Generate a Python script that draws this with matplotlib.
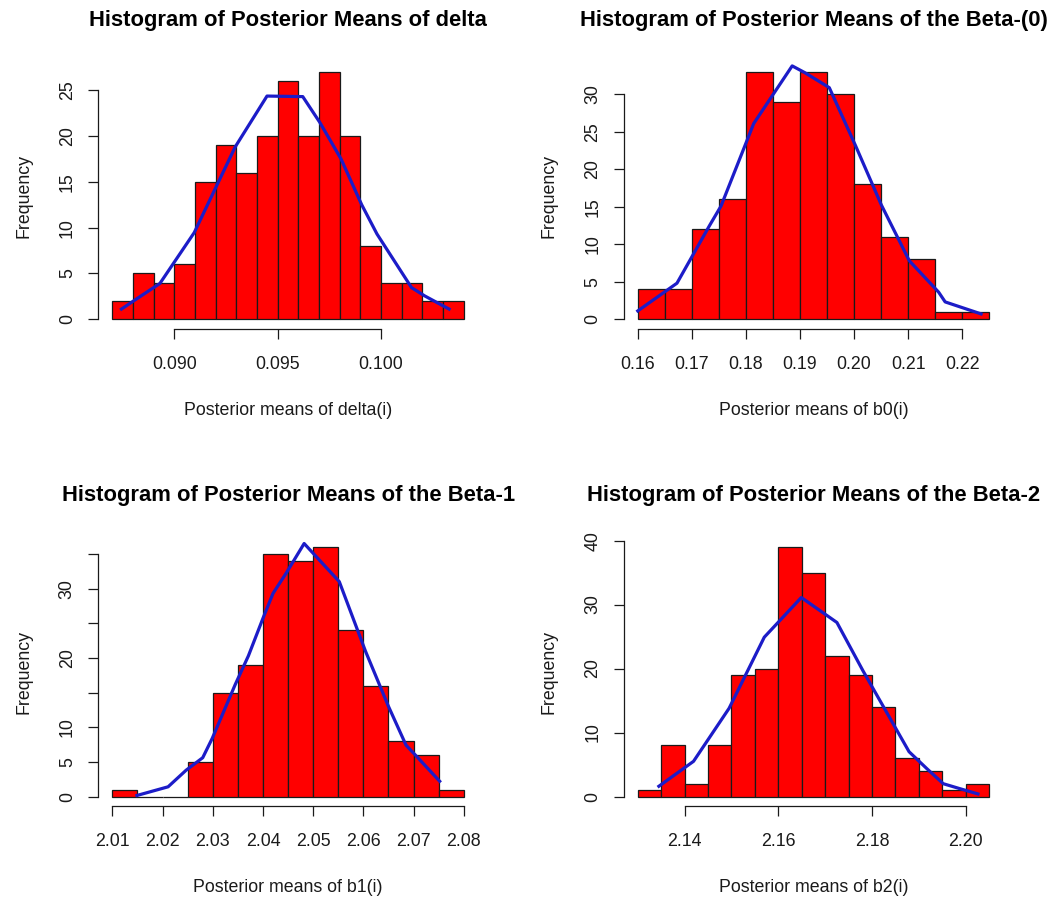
import numpy as np
import matplotlib
matplotlib.use('Agg')
import matplotlib.pyplot as plt

plt.rcParams['font.family'] = ['Liberation Sans', 'DejaVu Sans']

#==============================================================================
# Histogram counts of the posterior means (200 draws each)
#==============================================================================
delta_breaks = [0.087, 0.088, 0.089, 0.090, 0.091, 0.092, 0.093, 0.094, 0.095,
                0.096, 0.097, 0.098, 0.099, 0.100, 0.101, 0.102, 0.103, 0.104]
delta_counts = [2, 5, 4, 6, 15, 19, 16, 20, 26, 20, 27, 20, 8, 4, 4, 2, 2]
delta_curve_x = [0.08744, 0.08803, 0.08930, 0.09096, 0.09294, 0.09448, 0.09621,
                 0.09703, 0.09806, 0.09906, 0.09980, 0.10147, 0.10210, 0.10329]
delta_curve_y = [1.1, 2.0, 3.9, 9.45, 18.8, 24.36, 24.3,
                 21.5, 17.5, 12.5, 9.3, 3.45, 2.55, 1.1]

b0_breaks = [0.160, 0.165, 0.170, 0.175, 0.180, 0.185, 0.190,
             0.195, 0.200, 0.205, 0.210, 0.215, 0.220, 0.225]
b0_counts = [4, 4, 12, 16, 33, 29, 33, 30, 18, 11, 8, 1, 1]
b0_curve_x = [0.1600, 0.16725, 0.17328, 0.1754, 0.18144, 0.18856, 0.19089,
              0.19542, 0.20025, 0.20508, 0.21022, 0.21565, 0.21686, 0.22350]
b0_curve_y = [1.1, 4.8, 12.5, 15.1, 26.1, 33.8, 32.9,
              30.9, 23.2, 15.2, 7.8, 3.6, 2.3, 0.7]

b1_breaks = [2.010, 2.015, 2.020, 2.025, 2.030, 2.035, 2.040, 2.045,
             2.050, 2.055, 2.060, 2.065, 2.070, 2.075, 2.080]
b1_counts = [1, 0, 0, 5, 15, 19, 35, 34, 36, 24, 16, 8, 6, 1]
b1_curve_x = [2.0149, 2.0211, 2.0247, 2.0280, 2.0299, 2.0345, 2.0371, 2.0401, 2.0420,
              2.0446, 2.0482, 2.0552, 2.0604, 2.0650, 2.0685, 2.0702, 2.0752]
b1_curve_y = [0.15, 1.4, 3.8, 5.6, 8.4, 16.2, 20.3, 25.9, 29.3,
              32.2, 36.5, 31.0, 21.0, 13.0, 7.4, 6.1, 2.2]

b2_breaks = [2.130, 2.135, 2.140, 2.145, 2.150, 2.155, 2.160, 2.165,
             2.170, 2.175, 2.180, 2.185, 2.190, 2.195, 2.200, 2.205]
b2_counts = [1, 8, 2, 8, 19, 20, 39, 35, 22, 19, 14, 6, 4, 1, 2]
b2_curve_x = [2.1345, 2.1419, 2.1495, 2.1570, 2.1649, 2.1725, 2.1781,
              2.1851, 2.1879, 2.1917, 2.1952, 2.1984, 2.2026]
b2_curve_y = [1.6, 5.5, 13.8, 24.9, 31.1, 27.2, 19.6,
              10.6, 7.0, 4.35, 2.0, 1.3, 0.4]

panels = [
    dict(title='Histogram of Posterior Means of delta', xlabel='Posterior means of delta(i)',
         breaks=delta_breaks, counts=delta_counts, cx=delta_curve_x, cy=delta_curve_y,
         xticks=[0.090, 0.095, 0.100], xlabels=['0.090', '0.095', '0.100'],
         yticks=[0, 5, 10, 15, 20, 25], ylabels=['0', '5', '10', '15', '20', '25']),
    dict(title='Histogram of Posterior Means of the Beta-(0)', xlabel='Posterior means of b0(i)',
         breaks=b0_breaks, counts=b0_counts, cx=b0_curve_x, cy=b0_curve_y,
         xticks=[0.16, 0.17, 0.18, 0.19, 0.20, 0.21, 0.22],
         xlabels=['0.16', '0.17', '0.18', '0.19', '0.20', '0.21', '0.22'],
         yticks=[0, 5, 10, 15, 20, 25, 30], ylabels=['0', '5', '10', '15', '20', '25', '30']),
    dict(title='Histogram of Posterior Means of the Beta-1', xlabel='Posterior means of b1(i)',
         breaks=b1_breaks, counts=b1_counts, cx=b1_curve_x, cy=b1_curve_y,
         xticks=[2.01, 2.02, 2.03, 2.04, 2.05, 2.06, 2.07, 2.08],
         xlabels=['2.01', '2.02', '2.03', '2.04', '2.05', '2.06', '2.07', '2.08'],
         yticks=[0, 5, 10, 15, 20, 25, 30, 35], ylabels=['0', '5', '10', '', '20', '', '30', '']),
    dict(title='Histogram of Posterior Means of the Beta-2', xlabel='Posterior means of b2(i)',
         breaks=b2_breaks, counts=b2_counts, cx=b2_curve_x, cy=b2_curve_y,
         xticks=[2.14, 2.16, 2.18, 2.20], xlabels=['2.14', '2.16', '2.18', '2.20'],
         yticks=[0, 10, 20, 30, 40], ylabels=['0', '10', '20', '30', '40']),
]

# plot regions (figure fraction), 2x2 like par(mfrow=c(2,2))
boxes = [[0.0924, 0.6348, 0.3567, 0.2964],
         [0.5862, 0.6348, 0.3567, 0.2964],
         [0.0924, 0.1049, 0.3567, 0.2991],
         [0.5862, 0.1049, 0.3567, 0.2991]]

fig = plt.figure(figsize=(10.64, 9.01), dpi=100)

for p, box in zip(panels, boxes):
    ax = fig.add_axes(box)
    br = np.array(p['breaks'])
    ax.bar(br[:-1], p['counts'], width=np.diff(br), align='edge',
           color='#ff0000', edgecolor='#1a1a1a', linewidth=0.9, zorder=2)
    ax.plot(p['cx'], p['cy'], color='#1c1cc8', linewidth=2.3, zorder=3)

    # R style axes: 4% padding, axis lines only between first and last tick
    xr = br[-1] - br[0]
    ymax = max(p['counts'])
    ax.set_xlim(br[0] - 0.04 * xr, br[-1] + 0.04 * xr)
    ax.set_ylim(-0.04 * ymax, 1.04 * ymax)
    for s in ['top', 'right']:
        ax.spines[s].set_visible(False)
    ax.spines['bottom'].set_bounds(p['xticks'][0], p['xticks'][-1])
    ax.spines['left'].set_bounds(p['yticks'][0], p['yticks'][-1])
    for s in ['bottom', 'left']:
        ax.spines[s].set_linewidth(0.9)
        ax.spines[s].set_color('#1a1a1a')

    ax.set_xticks(p['xticks'])
    ax.set_xticklabels(p['xlabels'])
    ax.set_yticks(p['yticks'])
    ax.set_yticklabels(p['ylabels'], rotation=90, va='center')
    ax.tick_params(length=7.2, width=0.9, labelsize=12.8, colors='#1a1a1a')
    ax.tick_params(axis='x', pad=12)
    ax.tick_params(axis='y', pad=9)

    ax.set_title(p['title'], fontsize=15.8, fontweight='bold', pad=26)
    ax.set_xlabel(p['xlabel'], fontsize=12.8, labelpad=21, color='#1a1a1a')
    ax.set_ylabel('Frequency', fontsize=12.8, labelpad=19, color='#1a1a1a')

plt.savefig('out.png', dpi=100)
